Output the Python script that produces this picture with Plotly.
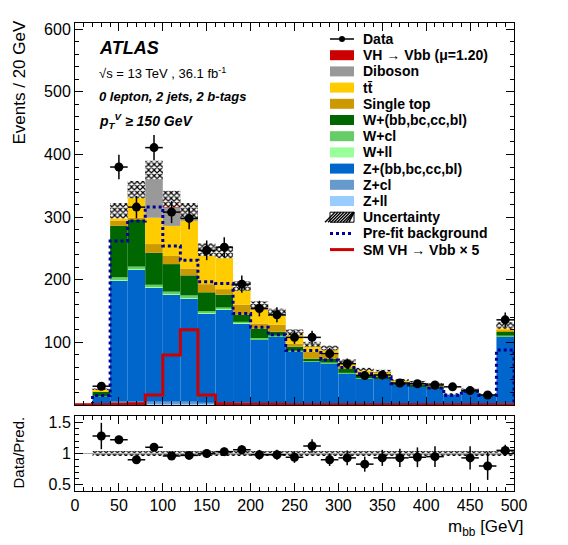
import numpy as np
import plotly.graph_objects as go

# bin centres, 20 GeV bins from 20 to 500 GeV
centres = list(range(30, 500, 20))

data = [30, 380, 316, 411, 308, 298, 247, 252, 193, 154, 144, 108, 108, 82, 66, 47,
        48, 35, 34, 32, 29, 23, 16, 136]

# cumulative stack tops
top_z = [13, 199, 216, 187, 176, 170, 146, 152, 130, 104, 109, 85, 69, 66, 50, 42,
         42, 32, 29, 26, 16, 21, 16, 109]
top_w = [21, 286, 297, 243, 225, 207, 180, 176, 144, 122, 117, 93, 74, 74, 58, 47,
         45, 34, 32, 29, 17, 23, 17, 117]
top_stop = [22, 294, 299, 257, 238, 218, 193, 185, 160, 130, 128, 98, 85, 80, 61, 50,
            48, 36, 33, 30, 17, 24, 17, 119]
top_ttbar = [24, 306, 339, 299, 286, 294, 243, 240, 187, 157, 146, 114, 96, 90, 69, 56,
             53, 40, 37, 34, 18, 26, 18, 125]
top_diboson = [25, 308, 342, 371, 315, 300, 245, 242, 189, 158, 147, 115, 97, 91, 70, 57,
               54, 40, 37, 34, 18, 26, 18, 126]
top_vh = [26, 310, 344, 375, 329, 310, 248, 244, 190, 159, 148, 116, 97, 91, 70, 57,
          54, 40, 37, 34, 18, 26, 18, 127]

# thin light-flavour layers
z_ll = [0.5, 2, 2, 2, 2, 2, 2, 2, 2, 1, 1, 1, 1, 1, 1, 0.5, 0.5, 0.5, 0.5, 0.5, 0.3, 0.3, 0.3, 1]
z_cl = [1, 3, 3, 3, 3, 3, 2, 2, 2, 2, 2, 1, 1, 1, 1, 1, 1, 0.5, 0.5, 0.5, 0.3, 0.3, 0.3, 2]
w_ll = [0.3, 2, 2, 2, 2, 2, 2, 2, 1, 1, 1, 1, 1, 1, 0.5, 0.5, 0.5, 0.3, 0.3, 0.3, 0.2, 0.2, 0.2, 1]
w_cl = [0.5, 3, 3, 3, 3, 3, 2, 2, 2, 2, 1, 1, 1, 1, 1, 0.5, 0.5, 0.3, 0.3, 0.3, 0.2, 0.2, 0.2, 1]

prefit = [15, 262, 294, 316, 254, 231, 197, 194, 146, 124, 112, 87, 87, 72, 60, 50,
          45, 34, 32, 27, 15, 22, 15, 88]
sm_vh5 = [0.5, 1, 2, 16, 80, 120, 16, 2, 1, 1, 1, 0.5, 0.5, 0.5, 0.5, 0.5,
          0.5, 0.5, 0.5, 0.5, 0.5, 0.5, 0.5, 0.5]

ratio = [1.28, 1.22, 0.90, 1.10, 0.96, 0.97, 1.00, 1.03, 1.06, 0.98, 0.98, 0.94,
         1.12, 0.90, 0.93, 0.83, 0.93, 0.93, 0.94, 0.95, None, 0.93, 0.80, 1.05]

unc_frac = 0.04

x = np.array(centres)
arr = lambda v: np.array(v, dtype=float)

zll_top = arr(z_ll)
zcl_top = zll_top + arr(z_cl)
wll_top = arr(top_z) + arr(w_ll)
wcl_top = wll_top + arr(w_cl)
# (name, bottom, top, colour)
layers = [
    ("Z+ll", np.zeros(len(x)), zll_top, "#99ccff"),
    ("Z+cl", zll_top, zcl_top, "#6699cc"),
    ("Z+(bb,bc,cc,bl)", zcl_top, arr(top_z), "#0066cc"),
    ("W+ll", arr(top_z), wll_top, "#99ff99"),
    ("W+cl", wll_top, wcl_top, "#66cc66"),
    ("W+(bb,bc,cc,bl)", wcl_top, arr(top_w), "#006600"),
    ("Single top", arr(top_w), arr(top_stop), "#cc9900"),
    ("tt\u0304", arr(top_stop), arr(top_ttbar), "#ffcc00"),
    ("Diboson", arr(top_ttbar), arr(top_diboson), "#999999"),
    ("VH \u2192 Vbb (\u03bc=1.20)", arr(top_diboson), arr(top_vh), "#cc0000"),
]

fig = go.Figure()
for name, lo, hi, col in layers:
    fig.add_trace(go.Bar(x=x, y=hi - lo, base=lo, width=20, name=name,
                         marker=dict(color=col, line=dict(width=0)), xaxis="x", yaxis="y"))

hatch = dict(color="white", line=dict(width=0),
             pattern=dict(shape="x", fgcolor="black", bgcolor="white",
                          size=4, solidity=0.5, fillmode="replace"))
total = arr(top_vh)
fig.add_trace(go.Bar(x=x, y=2 * unc_frac * total, base=total * (1 - unc_frac), width=20,
                     name="Uncertainty", marker=hatch, xaxis="x", yaxis="y"))

edges_x = [20] + [c - 10 for c in centres] + [500, 500]
fig.add_trace(go.Scatter(x=edges_x, y=[0] + prefit + [prefit[-1], 0], mode="lines",
                         line=dict(shape="hv", color="#000099", width=3, dash="dot"),
                         name="Pre-fit background", xaxis="x", yaxis="y"))
fig.add_trace(go.Scatter(x=[0] + [c - 10 for c in centres] + [500], y=[0.5] + sm_vh5 + [sm_vh5[-1]],
                         mode="lines", line=dict(shape="hv", color="#cc0000", width=3),
                         name="SM VH \u2192 Vbb \u00d7 5", xaxis="x", yaxis="y"))

fig.add_trace(go.Scatter(x=x, y=data, mode="markers", name="Data",
                         marker=dict(color="black", size=9),
                         error_y=dict(array=np.sqrt(data), color="black", thickness=1.5, width=0),
                         error_x=dict(array=[10] * len(x), color="black", thickness=1.5, width=0),
                         xaxis="x", yaxis="y"))

# ratio panel
fig.add_trace(go.Bar(x=x, y=[2 * unc_frac] * len(x), base=1 - unc_frac, width=20,
                     marker=hatch, xaxis="x2", yaxis="y2"))
fig.add_trace(go.Scatter(x=[0, 500], y=[1, 1], mode="lines", line=dict(color="#aaaaaa", width=1),
                         xaxis="x2", yaxis="y2"))
r_err = [np.sqrt(d) / t if r is not None else 0 for d, t, r in zip(data, total, ratio)]
fig.add_trace(go.Scatter(x=x, y=ratio, mode="markers",
                         marker=dict(color="black", size=9),
                         error_y=dict(array=r_err, color="black", thickness=1.5, width=0),
                         error_x=dict(array=[10] * len(x), color="black", thickness=1.5, width=0),
                         xaxis="x2", yaxis="y2"))

# hand-made legend; positions are screenshot pixels, the page adds an ~7 px offset
OFF = 7
L, R, T, B = 74 - OFF, 55 + OFF, 22 - OFF, 55 + OFF
W, H = 568 - L - R, 545 - T - B
px = lambda p: (p - OFF - L) / W
py = lambda p: (545 - B - (p - OFF)) / H

legend_items = [
    ("Data", "data", None),
    ("VH \u2192 Vbb (\u03bc=1.20)", "box", "#cc0000"),
    ("Diboson", "box", "#999999"),
    ("tt\u0304", "box", "#ffcc00"),
    ("Single top", "box", "#cc9900"),
    ("W+(bb,bc,cc,bl)", "box", "#006600"),
    ("W+cl", "box", "#66cc66"),
    ("W+ll", "box", "#99ff99"),
    ("Z+(bb,bc,cc,bl)", "box", "#0066cc"),
    ("Z+cl", "box", "#6699cc"),
    ("Z+ll", "box", "#99ccff"),
    ("Uncertainty", "hatch", None),
    ("Pre-fit background", "dot", "#000099"),
    ("SM VH \u2192 Vbb \u00d7 5", "line", "#cc0000"),
]
shapes, annotations = [], []
for i, (label, kind, col) in enumerate(legend_items):
    yc = 38 + 16.2 * i
    x0, x1 = 329, 353
    if kind == "box":
        shapes.append(dict(type="rect", xref="paper", yref="paper", x0=px(x0), x1=px(x1),
                           y0=py(yc + 5), y1=py(yc - 5), fillcolor=col, line=dict(width=0)))
    elif kind == "hatch":
        shapes.append(dict(type="rect", xref="paper", yref="paper", x0=px(x0), x1=px(x1),
                           y0=py(yc + 5), y1=py(yc - 5), fillcolor="white",
                           line=dict(width=1, color="black")))
        for k in range(0, 26, 3):
            shapes.append(dict(type="line", xref="paper", yref="paper",
                               x0=px(x0 + k - 5), x1=px(min(x0 + k + 5, x1)),
                               y0=py(yc + 5), y1=py(yc - 5), line=dict(width=1.5, color="black")))
    elif kind in ("line", "dot"):
        shapes.append(dict(type="line", xref="paper", yref="paper", x0=px(x0), x1=px(x1),
                           y0=py(yc), y1=py(yc),
                           line=dict(width=3, color=col, dash="dot" if kind == "dot" else "solid")))
    else:
        shapes.append(dict(type="line", xref="paper", yref="paper", x0=px(x0), x1=px(x1),
                           y0=py(yc), y1=py(yc), line=dict(width=1.5, color="black")))
        shapes.append(dict(type="circle", xref="paper", yref="paper", x0=px(338), x1=px(344),
                           y0=py(yc + 3), y1=py(yc - 3), fillcolor="black", line=dict(width=0)))
    annotations.append(dict(text="<b>%s</b>" % label, x=px(360), y=py(yc), xref="paper", yref="paper",
                            xanchor="left", yanchor="middle", showarrow=False,
                            font=dict(size=14)))

axis_common = dict(showline=True, linecolor="black", linewidth=1, mirror="ticks", ticks="inside",
                   ticklen=8, tickcolor="black", showgrid=False, zeroline=False)

annotations += [
    dict(text="<b><i>ATLAS</i></b>", x=px(96), y=py(47), xref="paper", yref="paper",
         xanchor="left", yanchor="middle", showarrow=False, font=dict(size=18)),
    dict(text="\u221as = 13 TeV , 36.1 fb<sup>-1</sup>", x=px(96), y=py(72), xref="paper", yref="paper",
         xanchor="left", yanchor="middle", showarrow=False, font=dict(size=13)),
    dict(text="<b><i>0 lepton, 2 jets, 2 b-tags</i></b>", x=px(96), y=py(95), xref="paper", yref="paper",
         xanchor="left", yanchor="middle", showarrow=False, font=dict(size=13)),
    dict(text="<b><i>p<sub>T</sub><sup>V</sup> \u2265 150 GeV</i></b>", x=px(96), y=py(120),
         xref="paper", yref="paper", xanchor="left", yanchor="middle", showarrow=False,
         font=dict(size=14)),
    dict(text="Events / 20 GeV", x=px(6), y=py(18), xref="paper", yref="paper", textangle=-90,
         xanchor="left", yanchor="top", showarrow=False, font=dict(size=17)),
    dict(text="Data/Pred.", x=px(6), y=py(414), xref="paper", yref="paper", textangle=-90,
         xanchor="left", yanchor="top", showarrow=False, font=dict(size=15)),
    dict(text="m<sub>bb</sub> [GeV]", x=px(525), y=py(514), xref="paper", yref="paper",
         xanchor="right", yanchor="top", showarrow=False, font=dict(size=17)),
]

fig.update_layout(
    width=568, height=545, barmode="overlay", showlegend=False,
    plot_bgcolor="white", paper_bgcolor="white",
    font=dict(family="Liberation Sans", size=16, color="black"),
    margin=dict(l=L, r=R, t=T, b=B),
    xaxis=dict(range=[0, 500], domain=[0, 1], anchor="y", showticklabels=False, dtick=50,
               minor=dict(ticks="inside", ticklen=4, dtick=10, tickcolor="black"), **axis_common),
    yaxis=dict(range=[0, 610], domain=[py(404), 1], anchor="x", tickvals=[100, 200, 300, 400, 500, 600],
               minor=dict(ticks="inside", ticklen=4, dtick=20, tickcolor="black"), **axis_common),
    xaxis2=dict(range=[0, 500], domain=[0, 1], anchor="y2", dtick=50,
                minor=dict(ticks="inside", ticklen=4, dtick=10, tickcolor="black"), **axis_common),
    yaxis2=dict(range=[0.4, 1.6], domain=[0, py(415)], anchor="x2", tickvals=[0.5, 1, 1.5],
                ticktext=["0.5", "1", "1.5"],
                minor=dict(ticks="inside", ticklen=4, dtick=0.1, tickcolor="black"), **axis_common),
    shapes=shapes,
    annotations=annotations,
)

fig.write_html("out.html")
